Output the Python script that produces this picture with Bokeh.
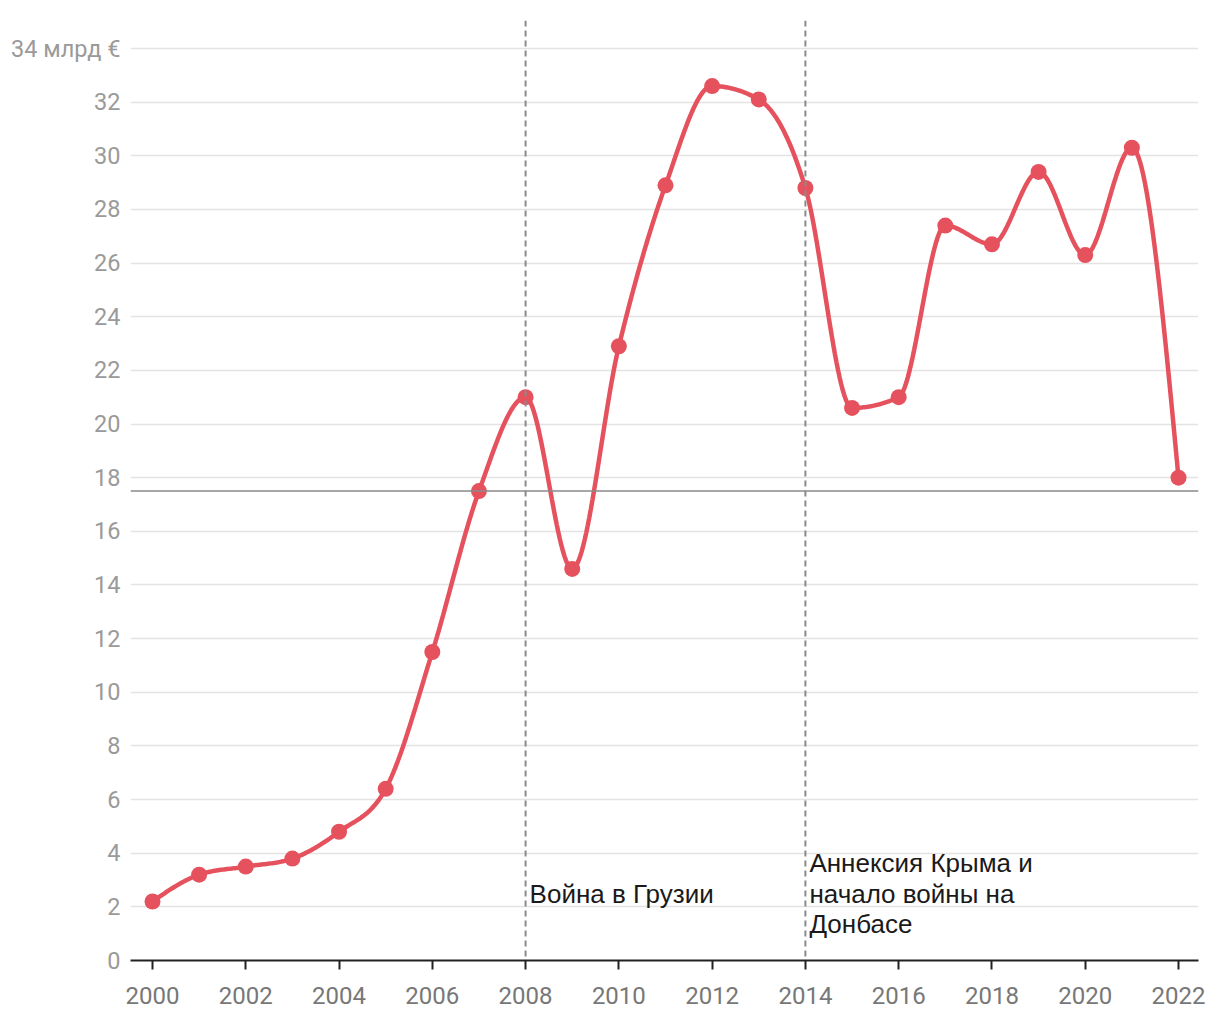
import numpy as np
from bokeh.plotting import figure
from bokeh.models import FixedTicker, Span
from bokeh.core.properties import value
from bokeh.embed import file_html
from bokeh.resources import INLINE

years = list(range(2000, 2023))
values = [2.2, 3.2, 3.5, 3.8, 4.8, 6.4, 11.5, 17.5, 21.0, 14.6, 22.9, 28.9,
          32.6, 32.1, 28.8, 20.6, 21.0, 27.4, 26.7, 29.4, 26.3, 30.3, 18.0]
y_ticks = list(range(0, 35, 2))
x_ticks = list(range(2000, 2023, 2))
threshold = 17.5
events = [2008, 2014]
event_labels = [["Война в Грузии"], ["Аннексия Крыма и", "начало войны на", "Донбасе"]]

LINE = "#e5525e"
FONT = "Roboto"
ANN_FONT = "Liberation Sans"


def monotone_x(xs, ys, n=30):
    xs = np.asarray(xs, float)
    ys = np.asarray(ys, float)
    m = len(xs)
    h = np.diff(xs)
    s = np.diff(ys) / h
    t = np.zeros(m)
    for i in range(1, m - 1):
        s0, s1 = s[i - 1], s[i]
        h0, h1 = h[i - 1], h[i]
        p = (s0 * h1 + s1 * h0) / (h0 + h1)
        t[i] = (np.sign(s0) + np.sign(s1)) * min(abs(s0), abs(s1), 0.5 * abs(p))
    t[0] = (3 * s[0] - t[1]) / 2
    t[-1] = (3 * s[-1] - t[-2]) / 2
    ox, oy = [], []
    for i in range(m - 1):
        u = np.linspace(0, 1, n, endpoint=(i == m - 2))
        dx = h[i]
        h00 = 2 * u**3 - 3 * u**2 + 1
        h10 = u**3 - 2 * u**2 + u
        h01 = -2 * u**3 + 3 * u**2
        h11 = u**3 - u**2
        ox.extend(xs[i] + u * dx)
        oy.extend(h00 * ys[i] + h10 * dx * t[i] + h01 * ys[i + 1] + h11 * dx * t[i + 1])
    return ox, oy


px_per_unit = (960 - 48) / 34.0
y_top = 34 + 28 / px_per_unit
px_per_year = (1178 - 152) / 22.0
x_start = 2000 - 22 / px_per_year
x_end = 2000 + (1198 - 152) / px_per_year

p = figure(width=1220, height=1020, output_backend="svg", toolbar_location=None,
           x_range=(x_start, x_end), y_range=(0, y_top),
           min_border_left=130, min_border_right=22, min_border_top=20, min_border_bottom=60)
p.outline_line_color = None
p.background_fill_color = "white"
p.border_fill_color = "white"

p.xgrid.visible = False
p.ygrid.ticker = FixedTicker(ticks=y_ticks)
p.ygrid.grid_line_color = "#e3e3e3"
p.ygrid.grid_line_width = 1.5

p.yaxis.ticker = FixedTicker(ticks=y_ticks)
p.yaxis.axis_line_color = None
p.yaxis.major_tick_line_color = None
p.yaxis.minor_tick_line_color = None
p.yaxis.major_label_text_color = "#9a9a9a"
p.yaxis.major_label_text_font = FONT
p.yaxis.major_label_text_font_size = "23.5px"
p.yaxis.major_label_standoff = 4
p.yaxis.major_label_overrides = {34: "34 млрд €"}

p.xaxis.ticker = FixedTicker(ticks=x_ticks)
p.xaxis.axis_line_color = "#222222"
p.xaxis.axis_line_width = 2
p.xaxis.major_tick_line_color = "#222222"
p.xaxis.major_tick_line_width = 2
p.xaxis.major_tick_in = 0
p.xaxis.major_tick_out = 9
p.xaxis.minor_tick_line_color = None
p.xaxis.major_label_text_color = "#777777"
p.xaxis.major_label_text_font = FONT
p.xaxis.major_label_text_font_size = "24px"
p.xaxis.major_label_standoff = 17

p.add_layout(Span(location=threshold, dimension="width", line_color="#8a8a8a", line_width=1.5))
for ev in events:
    p.add_layout(Span(location=ev, dimension="height", line_color="#8a8a8a",
                      line_width=2, line_dash="6 4"))

sx, sy = monotone_x(years, values)
p.line(sx, sy, line_color=LINE, line_width=4.5)
p.scatter(years, values, size=16, fill_color=LINE, line_color=None)

line_gap = 30.5 / px_per_unit
base_y = (960 - 893) / px_per_unit
for ev, lines in zip(events, event_labels):
    n = len(lines)
    ys = [base_y + line_gap * (1 if n == 3 else 0) - line_gap * k for k in range(n)]
    p.text(x=[ev] * n, y=ys, text=lines, x_offset=4, text_baseline="middle",
           text_align="left", text_color="#1a1a1a", text_font=value(ANN_FONT),
           text_font_size="26px")

open("out.html", "w").write(file_html(p, INLINE))
